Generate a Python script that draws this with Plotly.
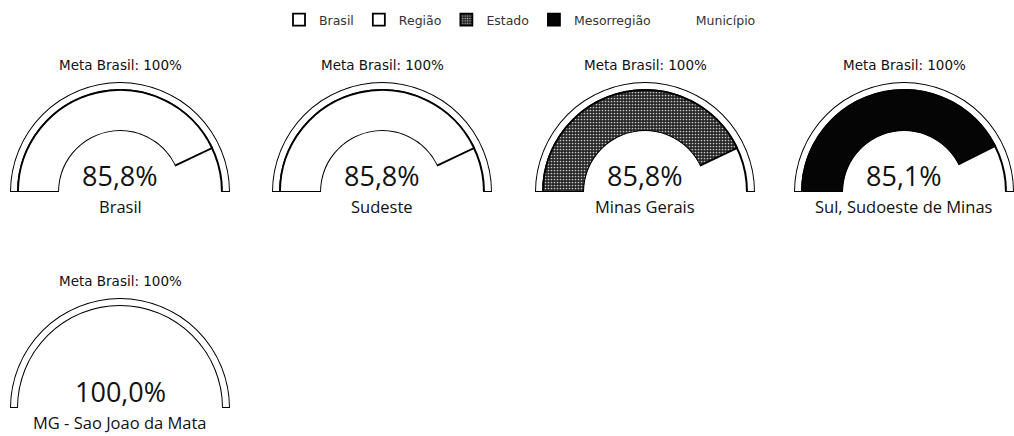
import plotly.graph_objects as go

# ---------------- data ----------------
categories = ["Brasil", "Região", "Estado", "Mesorregião", "Município"]
gauge_labels = ["Brasil", "Sudeste", "Minas Gerais", "Sul, Sudoeste de Minas", "MG - Sao Joao da Mata"]
values = [85.8, 85.8, 85.8, 85.1, 100.0]
meta_values = [100, 100, 100, 100, 100]
value_texts = ["85,8%", "85,8%", "85,8%", "85,1%", "100,0%"]
meta_label = "Meta Brasil: 100%"

# ---------------- styles / layout ----------------
W, H = 1014, 436
fill_colors = ["white", "white", "#303030", "#050505", "white"]
outline_widths = [1.8, 1.8, 1.8, 1.8, 0]
centers_x = [120, 382, 645, 904, 120]
baselines = [192, 192, 192, 192, 408]
R_OUT, R_IN, R_BAR = 110, 61, 102
bar_frac = (R_BAR - R_IN) / (R_OUT - R_IN)

fig = go.Figure()
annotations = []
layout_polars = {}

for i, cat in enumerate(categories):
    key = "polar" if i == 0 else f"polar{i+1}"
    cx, base = centers_x[i], baselines[i]
    # meta ring
    fig.add_trace(go.Barpolar(
        r=[1 - bar_frac], base=[bar_frac],
        theta=[meta_values[i] * 1.8 / 2], width=[meta_values[i] * 1.8],
        marker=dict(color="white", line=dict(color="black", width=2)),
        showlegend=False, hoverinfo="skip", subplot=key,
    ))
    # value bar
    marker = dict(color=fill_colors[i], line=dict(color="black", width=outline_widths[i]))
    if cat == "Estado":
        marker["pattern"] = dict(shape=".", fgcolor="#c8c8c8", bgcolor="#262626",
                                 size=3, solidity=0.25, fillmode="replace")
    try:
        tr = go.Barpolar(
            r=[bar_frac], base=[0],
            theta=[values[i] * 1.8 / 2], width=[values[i] * 1.8],
            marker=marker, name=cat, showlegend=True, subplot=key,
        )
    except Exception:
        marker.pop("pattern", None)
        tr = go.Barpolar(
            r=[bar_frac], base=[0],
            theta=[values[i] * 1.8 / 2], width=[values[i] * 1.8],
            marker=marker, name=cat, showlegend=True, subplot=key,
        )
    fig.add_trace(tr)

    layout_polars[key] = dict(
        domain=dict(x=[(cx - R_OUT) / W, min(1, (cx + R_OUT) / W)],
                    y=[(H - base) / H, (H - base + R_OUT) / H]),
        sector=[0, 180],
        hole=R_IN / R_OUT,
        bgcolor="rgba(0,0,0,0)",
        radialaxis=dict(visible=False, range=[0, 1]),
        angularaxis=dict(visible=False, rotation=180, direction="clockwise",
                         thetaunit="degrees"),
        barmode="overlay",
    )

    annotations.append(dict(x=cx / W, y=(H - base + 127) / H, xref="paper", yref="paper",
                            text=meta_label, showarrow=False,
                            font=dict(family="DejaVu Sans", size=13.5, color="#111"),
                            xanchor="center", yanchor="middle"))
    annotations.append(dict(x=cx / W, y=(H - base + 17) / H, xref="paper", yref="paper",
                            text=value_texts[i], showarrow=False,
                            font=dict(family="Open Sans", size=27, color="#111"),
                            xanchor="center", yanchor="middle"))
    annotations.append(dict(x=cx / W, y=(H - base - 14) / H, xref="paper", yref="paper",
                            text=gauge_labels[i], showarrow=False,
                            font=dict(family="Open Sans", size=16.5, color="#111"),
                            xanchor="center", yanchor="middle"))

fig.update_layout(
    width=W, height=H,
    margin=dict(l=0, r=0, t=0, b=0),
    paper_bgcolor="white", plot_bgcolor="white",
    annotations=annotations,
    legend=dict(orientation="h", x=520 / W, xanchor="center", y=1 - 20 / H, yanchor="middle",
                font=dict(family="DejaVu Sans", size=12.5, color="#333"),
                itemwidth=30, bgcolor="rgba(0,0,0,0)", traceorder="normal"),
    **layout_polars,
)

fig.write_html("out.html",
               config={"displayModeBar": False},
               post_script="document.body.style.margin='0';document.body.style.overflow='hidden';")
